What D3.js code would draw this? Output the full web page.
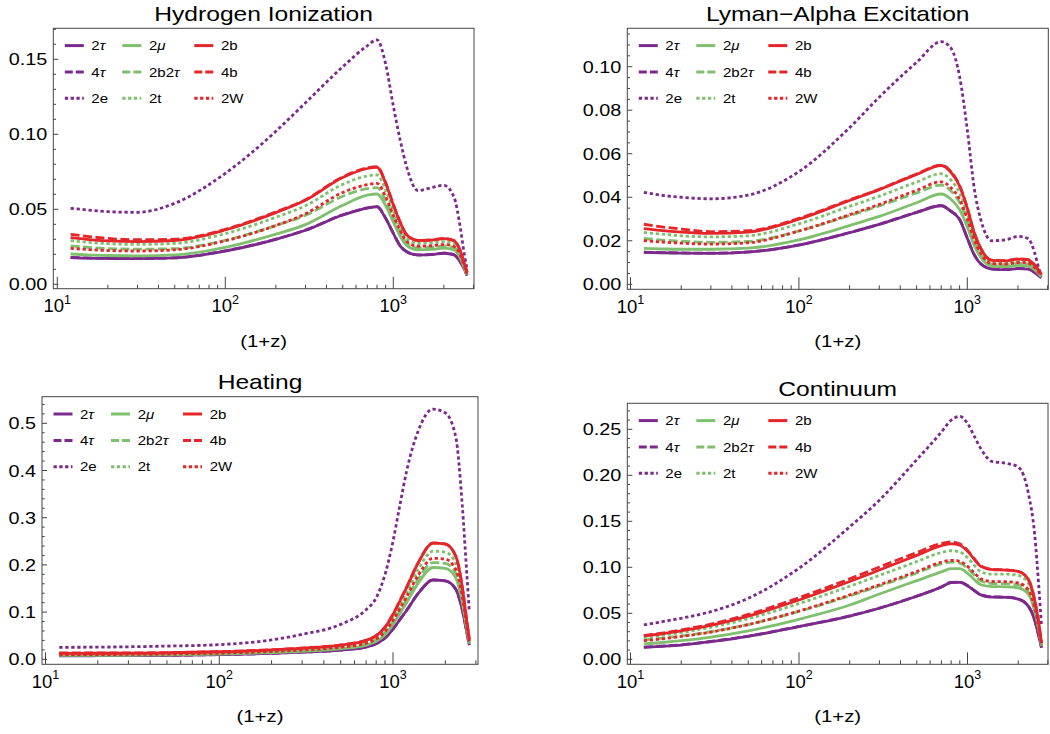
<!DOCTYPE html>
<html>
<head>
<meta charset="utf-8">
<script src="https://cdn.jsdelivr.net/npm/d3@7"></script>
<style>
  body { margin: 0; background: #fff; }
  text { font-family: "Liberation Sans", Arial, sans-serif; fill: #000; }
</style>
</head>
<body>
<svg id="chart" width="1050" height="734"></svg>
<script>
// (1+z) sample points shared by every curve
const zValues = [12, 15, 20, 30, 50, 100, 200, 300, 500, 700, 800, 900, 1000, 1100, 1200, 1400, 1700, 2000, 2300, 2500, 2650, 2750];

const seriesLabels = ["2τ", "4τ", "2e", "2μ", "2b2τ", "2t", "2b", "4b", "2W"];
const xTickValues = [10, 100, 1000];
const xTickExp = ["1", "2", "3"];

// Hydrogen Ionization
const hiTau2   = [.0178,.0174,.0172,.0171,.0176,.0222,.0300,.0360,.0462,.0508,.0517,.0440,.0340,.0255,.0217,.0195,.0198,.0207,.0196,.0150,.0100,.0058];
const hiTau4   = [.0180,.0176,.0173,.0172,.0177,.0223,.0301,.0361,.0463,.0509,.0518,.0441,.0341,.0256,.0218,.0196,.0199,.0208,.0197,.0151,.0101,.0059];
const hiE2     = [.0507,.0496,.0484,.0480,.0540,.0740,.1020,.1210,.1450,.1590,.1630,.1470,.1190,.0960,.0785,.0625,.0645,.0660,.0580,.0384,.0195,.0100];
const hiMu2    = [.0202,.0196,.0192,.0190,.0196,.0246,.0335,.0398,.0527,.0594,.0602,.0525,.0415,.0320,.0260,.0230,.0233,.0241,.0229,.0177,.0106,.0063];
const hiB2Tau2 = [.0256,.0247,.0238,.0234,.0238,.0293,.0392,.0460,.0587,.0638,.0644,.0560,.0442,.0345,.0275,.0244,.0247,.0256,.0244,.0189,.0113,.0067];
const hiT2     = [.0291,.0281,.0271,.0266,.0273,.0338,.0447,.0524,.0666,.0722,.0729,.0631,.0496,.0385,.0309,.0273,.0276,.0285,.0271,.0210,.0126,.0075];
const hiB2     = [.0311,.0300,.0290,.0285,.0292,.0362,.0478,.0560,.0712,.0772,.0780,.0675,.0530,.0412,.0330,.0292,.0295,.0305,.0290,.0225,.0135,.0080];
const hiB4     = [.0333,.0320,.0306,.0297,.0301,.0367,.0483,.0564,.0716,.0776,.0784,.0678,.0533,.0414,.0332,.0293,.0296,.0306,.0291,.0226,.0136,.0081];
const hiW2     = [.0240,.0232,.0225,.0222,.0230,.0290,.0392,.0470,.0612,.0664,.0673,.0585,.0460,.0358,.0287,.0254,.0257,.0265,.0252,.0196,.0118,.0070];
const hiYTicks = [0, 0.05, 0.10, 0.15];

// Lyman-Alpha Excitation
const lyaTau2   = [.0147,.0145,.0143,.0142,.0148,.0180,.0237,.0275,.0330,.0361,.0335,.0298,.0212,.0135,.0094,.0070,.0067,.0072,.0070,.0055,.0040,.0030];
const lyaTau4   = [.0148,.0146,.0144,.0143,.0149,.0181,.0238,.0276,.0331,.0362,.0336,.0299,.0213,.0136,.0095,.0071,.0068,.0073,.0071,.0056,.0041,.0031];
const lyaE2     = [.0423,.0410,.0400,.0393,.0410,.0518,.0720,.0860,.1020,.1115,.1085,.0955,.0710,.0440,.0300,.0200,.0205,.0220,.0210,.0150,.0078,.0040];
const lyaMu2    = [.0165,.0163,.0161,.0161,.0166,.0204,.0270,.0312,.0375,.0415,.0391,.0343,.0264,.0178,.0125,.0084,.0081,.0087,.0084,.0068,.0049,.0034];
const lyaB2Tau2 = [.0211,.0204,.0198,.0193,.0197,.0245,.0316,.0360,.0420,.0456,.0429,.0376,.0291,.0196,.0138,.0092,.0090,.0097,.0093,.0075,.0054,.0038];
const lyaT2     = [.0238,.0231,.0223,.0218,.0223,.0278,.0358,.0405,.0470,.0508,.0479,.0420,.0326,.0219,.0154,.0102,.0100,.0108,.0104,.0084,.0060,.0042];
const lyaB2     = [.0256,.0248,.0240,.0234,.0240,.0299,.0385,.0435,.0505,.0546,.0515,.0452,.0350,.0236,.0166,.0110,.0108,.0116,.0112,.0090,.0065,.0045];
const lyaB4     = [.0276,.0265,.0254,.0242,.0246,.0303,.0388,.0437,.0507,.0548,.0517,.0454,.0351,.0237,.0167,.0111,.0109,.0117,.0113,.0091,.0066,.0046];
const lyaW2     = [.0201,.0195,.0189,.0185,.0191,.0245,.0320,.0367,.0432,.0471,.0444,.0390,.0302,.0204,.0143,.0095,.0093,.0100,.0097,.0078,.0056,.0039];
const lyaYTicks = [0, 0.02, 0.04, 0.06, 0.08, 0.10];

// Heating
const heatTau2   = [.0075,.0075,.0076,.0078,.0083,.0098,.0125,.0150,.0195,.0260,.0330,.0450,.0640,.0850,.1040,.1400,.1680,.1660,.1480,.1060,.0600,.0300];
const heatTau4   = [.0077,.0077,.0078,.0080,.0085,.0100,.0127,.0152,.0197,.0262,.0332,.0452,.0642,.0852,.1042,.1402,.1682,.1662,.1482,.1062,.0602,.0302];
const heatE2     = [.0254,.0255,.0258,.0265,.0280,.0310,.0410,.0530,.0740,.1050,.1300,.1800,.2500,.3300,.4000,.4850,.5300,.5220,.4700,.3300,.1900,.1000];
const heatMu2    = [.0083,.0083,.0084,.0086,.0092,.0110,.0142,.0170,.0222,.0300,.0380,.0522,.0740,.0980,.1205,.1620,.1945,.1928,.1722,.1224,.0672,.0332];
const heatB2Tau2 = [.0105,.0105,.0106,.0107,.0114,.0132,.0166,.0195,.0250,.0333,.0417,.0566,.0791,.1041,.1274,.1708,.2050,.2033,.1816,.1291,.0708,.0350];
const heatT2     = [.0118,.0118,.0119,.0121,.0128,.0149,.0186,.0219,.0279,.0372,.0465,.0632,.0884,.1163,.1423,.1907,.2290,.2270,.2027,.1442,.0790,.0390];
const heatB2     = [.0127,.0127,.0128,.0130,.0138,.0160,.0200,.0235,.0300,.0400,.0500,.0680,.0950,.1250,.1530,.2050,.2460,.2440,.2180,.1550,.0850,.0420];
const heatB4     = [.0135,.0134,.0134,.0135,.0141,.0162,.0203,.0238,.0304,.0404,.0504,.0684,.0954,.1254,.1534,.2054,.2464,.2444,.2184,.1554,.0854,.0424];
const heatW2     = [.0100,.0100,.0101,.0103,.0110,.0130,.0166,.0197,.0255,.0344,.0432,.0588,.0824,.1085,.1330,.1783,.2140,.2123,.1897,.1350,.0740,.0365];
const heatYTicks = [0, 0.1, 0.2, 0.3, 0.4, 0.5];

// Continuum
const contTau2   = [.0130,.0140,.0155,.0192,.0250,.0355,.0470,.0555,.0685,.0785,.0835,.0837,.0800,.0745,.0700,.0676,.0674,.0655,.0575,.0430,.0250,.0125];
const contTau4   = [.0132,.0142,.0157,.0194,.0252,.0357,.0472,.0557,.0687,.0787,.0837,.0839,.0802,.0747,.0702,.0678,.0676,.0657,.0577,.0432,.0252,.0127];
const contE2     = [.0373,.0405,.0446,.0518,.0663,.0990,.1440,.1730,.2170,.2470,.2600,.2640,.2565,.2420,.2290,.2150,.2130,.2090,.1800,.1370,.0790,.0355];
const contMu2    = [.0167,.0180,.0202,.0242,.0310,.0435,.0590,.0710,.0855,.0950,.0985,.0985,.0935,.0865,.0810,.0790,.0788,.0777,.0705,.0530,.0318,.0143];
const contB2Tau2 = [.0212,.0227,.0254,.0300,.0378,.0520,.0690,.0797,.0938,.1037,.1057,.1045,.0990,.0915,.0853,.0824,.0820,.0808,.0732,.0551,.0331,.0149];
const contT2     = [.0239,.0259,.0292,.0348,.0442,.0606,.0794,.0912,.1062,.1161,.1180,.1166,.1105,.1020,.0950,.0925,.0925,.0912,.0825,.0620,.0372,.0167];
const contB2     = [.0254,.0275,.0310,.0370,.0470,.0645,.0845,.0970,.1130,.1235,.1255,.1240,.1175,.1085,.1010,.0975,.0970,.0955,.0865,.0650,.0390,.0175];
const contB4     = [.0258,.0282,.0320,.0382,.0488,.0670,.0875,.1003,.1160,.1260,.1275,.1255,.1185,.1090,.1013,.0978,.0972,.0957,.0867,.0652,.0392,.0176];
const contW2     = [.0203,.0220,.0248,.0296,.0378,.0525,.0700,.0810,.0955,.1055,.1075,.1065,.1010,.0937,.0875,.0846,.0843,.0830,.0752,.0566,.0340,.0153];
const contYTicks = [0, 0.05, 0.10, 0.15, 0.20, 0.25];

// styles
const purple = "#7b2a8c", green = "#7fbf6e", red = "#e4262b";
const lineColors = [purple, purple, purple, green, green, green, red, red, red];
const curveDash  = [null, "9,3.5", "3.3,2.7", null, "9,3.5", "3.3,2.7", null, "9,3.5", "3.3,2.7"];
const legendDash = [null, "8,3", "3.3,2.5", null, "8,3", "3.3,2.5", null, "8,3", "3.3,2.5"];

const panels = [
  { title: "Hydrogen Ionization", series: [hiTau2, hiTau4, hiE2, hiMu2, hiB2Tau2, hiT2, hiB2, hiB4, hiW2],
    yTicks: hiYTicks, minor: 0.01, fmt: d3.format(".2f"),
    left: 53.3, right: 474, top: 28.3, bottom: 288.7, x10: 57.3, x1000: 393.3, y0: 284.3, yRef: 0.15, yRefPx: 59.3 },
  { title: "Lyman\u2212Alpha Excitation", series: [lyaTau2, lyaTau4, lyaE2, lyaMu2, lyaB2Tau2, lyaT2, lyaB2, lyaB4, lyaW2],
    yTicks: lyaYTicks, minor: 0.005, fmt: d3.format(".2f"),
    left: 627.3, right: 1048.3, top: 28.3, bottom: 289.3, x10: 630.5, x1000: 967.3, y0: 284.3, yRef: 0.10, yRefPx: 66.7 },
  { title: "Heating", series: [heatTau2, heatTau4, heatE2, heatMu2, heatB2Tau2, heatT2, heatB2, heatB4, heatW2],
    yTicks: heatYTicks, minor: 0.02, fmt: d3.format(".1f"),
    left: 42, right: 478, top: 396.7, bottom: 664.3, x10: 45.5, x1000: 393, y0: 659.3, yRef: 0.5, yRefPx: 423.3 },
  { title: "Continuum", series: [contTau2, contTau4, contE2, contMu2, contB2Tau2, contT2, contB2, contB4, contW2],
    yTicks: contYTicks, minor: 0.01, fmt: d3.format(".2f"),
    left: 627.3, right: 1048, top: 403.3, bottom: 664.3, x10: 630.5, x1000: 967.5, y0: 659.3, yRef: 0.25, yRefPx: 429.3 }
];

const svg = d3.select("#chart");
svg.append("rect").attr("width", 1050).attr("height", 734).attr("fill", "#fff");

// text is a little wider than the font, so stretch horizontally
function addText(parent, x, y, size, anchor, sx) {
  return parent.append("text")
    .attr("transform", `translate(${x},${y}) scale(${sx},1)`)
    .attr("font-size", size)
    .attr("text-anchor", anchor);
}

// italic greek letters in the legend labels
function writeLabel(textSel, str) {
  for (const ch of str) {
    const t = textSel.append("tspan").text(ch);
    if (ch === "τ" || ch === "μ") t.attr("font-style", "italic");
  }
}

panels.forEach(p => {
  const g = svg.append("g");
  const x = d3.scaleLog().domain([10, 1000]).range([p.x10, p.x1000]);
  const y = d3.scaleLinear().domain([0, p.yRef]).range([p.y0, p.yRefPx]);
  const cx = (p.left + p.right) / 2;

  // title
  addText(g, cx, p.top - 7.8, 20.5, "middle", 1.2).text(p.title);

  // x ticks
  const tickG = g.append("g").attr("stroke", "#444").attr("stroke-width", 1);
  [10, 100, 1000].forEach(dec => {
    for (let m = 1; m <= 9; m++) {
      const v = m * dec, px = x(v);
      if (px < p.left || px > p.right) continue;
      const len = m === 1 ? 12 : 4;
      tickG.append("line").attr("x1", px).attr("x2", px)
        .attr("y1", p.bottom).attr("y2", p.bottom - len);
    }
  });
  xTickValues.forEach((v, i) => {
    const t = addText(g, x(v), p.bottom + 23.5, 18.5, "middle", 1);
    t.append("tspan").text("10");
    t.append("tspan").text(xTickExp[i]).attr("font-size", 12.5).attr("dy", -8.5);
  });
  addText(g, cx, p.bottom + 58, 17, "middle", 1.2).text("(1+z)");

  // y ticks
  const yMax = y.invert(p.top), yMin = y.invert(p.bottom);
  const nMinor = Math.floor(yMax / p.minor + 1e-6);
  for (let k = Math.ceil(yMin / p.minor - 1e-6); k <= nMinor; k++) {
    const v = k * p.minor;
    const isMajor = p.yTicks.some(t => Math.abs(t - v) < 1e-9);
    tickG.append("line").attr("x1", p.left).attr("x2", p.left + (isMajor ? 5 : 2.7))
      .attr("y1", y(v)).attr("y2", y(v));
  }
  p.yTicks.forEach(v => {
    addText(g, p.left - 6, y(v) + 6, 16.5, "end", 1.2).text(p.fmt(v));
  });

  // frame
  g.append("rect").attr("x", p.left).attr("y", p.top)
    .attr("width", p.right - p.left).attr("height", p.bottom - p.top)
    .attr("fill", "none").attr("stroke", "#444").attr("stroke-width", 1);

  // curves
  const line = d3.line().x(d => x(d[0])).y(d => y(d[1])).curve(d3.curveMonotoneX);
  p.series.forEach((vals, i) => {
    g.append("path")
      .datum(zValues.map((z, j) => [z, vals[j]]))
      .attr("d", line)
      .attr("fill", "none")
      .attr("stroke", lineColors[i])
      .attr("stroke-width", 2.8)
      .attr("stroke-linejoin", "round")
      .attr("stroke-dasharray", curveDash[i]);
  });

  // legend: columns by colour
  const colLine = [11.5, 69, 141], colText = [38, 95.7, 167.7], rows = [17.3, 43.7, 70];
  seriesLabels.forEach((lab, i) => {
    const col = Math.floor(i / 3), row = i % 3;
    const ly = p.top + rows[row];
    g.append("line")
      .attr("x1", p.left + colLine[col]).attr("x2", p.left + colLine[col] + 19)
      .attr("y1", ly).attr("y2", ly)
      .attr("stroke", lineColors[i]).attr("stroke-width", 3)
      .attr("stroke-dasharray", legendDash[i]);
    writeLabel(addText(g, p.left + colText[col], ly + 4.5, 12.5, "start", 1.2), lab);
  });
});
</script>
</body>
</html>
